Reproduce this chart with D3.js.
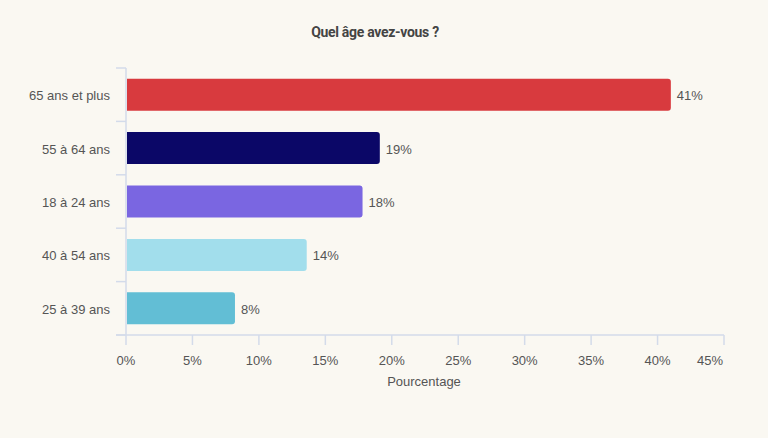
<!DOCTYPE html>
<html><head><meta charset="utf-8">
<script src="https://cdn.jsdelivr.net/npm/d3@7"></script>
<style>
html,body{margin:0;padding:0;background:#faf8f2;}
svg{display:block;}
</style></head>
<body>
<svg id="chart" width="768" height="438"></svg>
<script>
const categories = ["65 ans et plus", "55 à 64 ans", "18 à 24 ans", "40 à 54 ans", "25 à 39 ans"];
const values = [41.0, 19.1, 17.8, 13.6, 8.2];
const valueLabels = ["41%", "19%", "18%", "14%", "8%"];
const colors = ["#d83a3e", "#0b0767", "#7a66e1", "#a2deec", "#62bed5"];
const xTicks = [0, 5, 10, 15, 20, 25, 30, 35, 40, 45];
const title = "Quel âge avez-vous ?";
const xTitle = "Pourcentage";

const svg = d3.select("#chart");
svg.append("rect").attr("width", 768).attr("height", 438).attr("fill", "#faf8f2");

const x = d3.scaleLinear().domain([0, 45]).range([126, 724]);
const y = d3.scaleBand().domain(categories).range([68, 335]).paddingInner(0.4).paddingOuter(0.2);
const axisColor = "#d3dbea";
const font = "'Liberation Sans', Arial, sans-serif";
const fs = 13;

svg.append("text").attr("x", 375).attr("y", 37).attr("text-anchor", "middle")
  .attr("font-family", "Roboto, sans-serif").attr("font-weight", "bold").attr("font-size", 14)
  .attr("fill", "#444").attr("letter-spacing", "-0.3").text(title);

// y axis
const yAxis = svg.append("g").attr("transform", "translate(126,0)");
yAxis.append("line").attr("x1", 0).attr("x2", 0).attr("y1", 68).attr("y2", 335).attr("stroke", axisColor).attr("stroke-width", 1.5);
const bounds = categories.map((c, i) => 68 + i * y.step()).concat([335]);
yAxis.selectAll("line.tk").data(bounds).enter().append("line").attr("class", "tk")
  .attr("x1", -10).attr("x2", 0).attr("y1", d => d).attr("y2", d => d)
  .attr("stroke", axisColor).attr("stroke-width", 1.5);
yAxis.selectAll("text").data(categories).enter().append("text")
  .attr("x", -16).attr("y", d => y(d) + y.bandwidth() / 2 + 1).attr("dy", "0.35em")
  .attr("text-anchor", "end").attr("font-family", font).attr("font-size", fs).attr("fill", "#555").text(d => d);

// x axis
const xAxis = svg.append("g").attr("transform", "translate(0,335)");
xAxis.append("line").attr("x1", 116).attr("x2", 724).attr("y1", 0).attr("y2", 0).attr("stroke", axisColor).attr("stroke-width", 1.5);
xAxis.selectAll("line.tk").data(xTicks).enter().append("line").attr("class", "tk")
  .attr("x1", d => x(d)).attr("x2", d => x(d)).attr("y1", 0).attr("y2", 10)
  .attr("stroke", axisColor).attr("stroke-width", 1.5);
xAxis.selectAll("text").data(xTicks).enter().append("text")
  .attr("x", (d, i) => i === xTicks.length - 1 ? x(d) - 1 : x(d))
  .attr("y", 30).attr("text-anchor", (d, i) => i === xTicks.length - 1 ? "end" : "middle")
  .attr("font-family", font).attr("font-size", fs).attr("fill", "#555").text(d => d + "%");
svg.append("text").attr("x", 424).attr("y", 386).attr("text-anchor", "middle")
  .attr("font-family", font).attr("font-size", fs).attr("fill", "#555").text(xTitle);

// bars with rounded right corners
const r = 3;
function barPath(x0, x1, y0, h) {
  const w = x1 - x0;
  const rr = Math.min(r, w / 2);
  return `M${x0},${y0}H${x1 - rr}Q${x1},${y0} ${x1},${y0 + rr}V${y0 + h - rr}Q${x1},${y0 + h} ${x1 - rr},${y0 + h}H${x0}Z`;
}
svg.selectAll("path.bar").data(categories).enter().append("path").attr("class", "bar")
  .attr("d", (d, i) => barPath(x(0) + 1, x(values[i]), y(d), y.bandwidth()))
  .attr("fill", (d, i) => colors[i]);
svg.selectAll("text.val").data(categories).enter().append("text").attr("class", "val")
  .attr("x", (d, i) => x(values[i]) + 6).attr("y", d => y(d) + y.bandwidth() / 2 + 1).attr("dy", "0.35em")
  .attr("font-family", font).attr("font-size", fs).attr("fill", "#555").text((d, i) => valueLabels[i]);
</script>
</body></html>
